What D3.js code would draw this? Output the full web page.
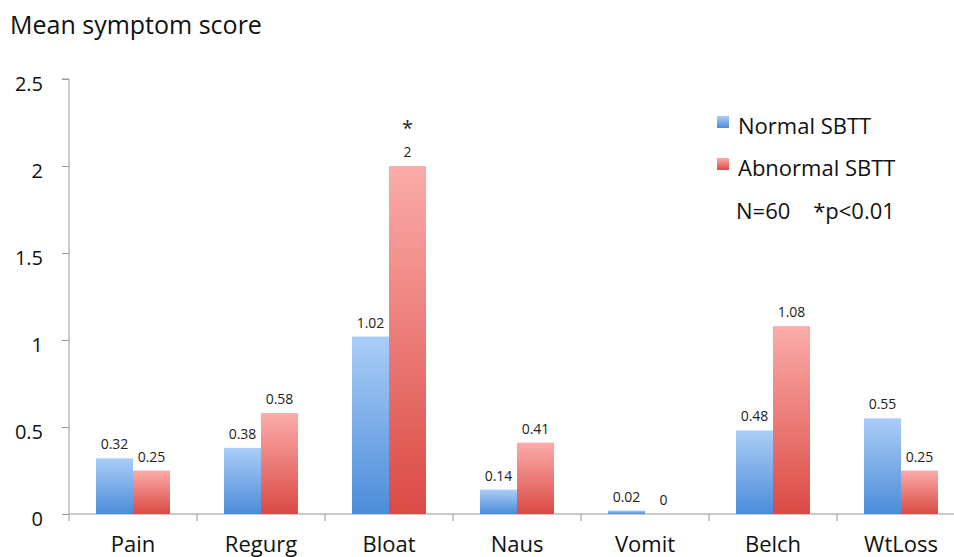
<!DOCTYPE html>
<html><head><meta charset="utf-8">
<script src="https://cdn.jsdelivr.net/npm/d3@7"></script>
<style>body{margin:0;background:#fff;overflow:hidden}svg{display:block}text{font-family:"Open Sans",sans-serif}</style>
</head><body><svg id="c" width="954" height="557"></svg>
<script>
const categories = ["Pain","Regurg","Bloat","Naus","Vomit","Belch","WtLoss"];
const normalSBTT = [0.32,0.38,1.02,0.14,0.02,0.48,0.55];
const abnormalSBTT = [0.25,0.58,2,0.41,0,1.08,0.25];
const valueLabels = [["0.32","0.25"],["0.38","0.58"],["1.02","2"],["0.14","0.41"],["0.02","0"],["0.48","1.08"],["0.55","0.25"]];
const yTicks = [0,0.5,1,1.5,2,2.5];
const seriesNames = ["Normal SBTT","Abnormal SBTT"];
const sigMarks = ["","","*","","","",""];

const svg = d3.select("#c");
const x0 = 69, plotW = 128*7;
const x = d3.scaleBand().domain(categories).range([x0, x0+plotW]).paddingInner(0).paddingOuter(0);
const xs = d3.scaleBand().domain([0,1]).range([27, 128-27]);
const y = d3.scaleLinear().domain([0,2.5]).range([514,79]);

const defs = svg.append("defs");
const grads = [["gBlue","#abcdf7","#4c8cd9"],["gRed","#fbacaa","#db4a44"]];
grads.forEach(([id,c1,c2])=>{
  const g = defs.append("linearGradient").attr("id",id).attr("x1",0).attr("y1",0).attr("x2",0).attr("y2",1);
  g.append("stop").attr("offset","0%").attr("stop-color",c1);
  g.append("stop").attr("offset","100%").attr("stop-color",c2);
});

// title
svg.append("text").attr("x",10).attr("y",34).attr("font-size",25).attr("fill","#111").text("Mean symptom score");

// y axis
const yAxis = d3.axisLeft(y).tickValues(yTicks).tickSize(7).tickPadding(19).tickFormat(d=>d===0?"0":String(d));
const ga = svg.append("g").attr("transform",`translate(${x0},0)`).call(yAxis);
ga.select(".domain").attr("stroke","#999").attr("d",`M-7,${y(2.5)}H0V${y(0)}`);
ga.selectAll(".tick line").attr("stroke","#999");
ga.selectAll(".tick text").attr("font-size",20).attr("fill","#111").attr("font-family","'Open Sans',sans-serif").attr("dy","0.55em");

// x axis
const xAxis = d3.axisBottom(x).tickSize(0).tickPadding(25);
const gx = svg.append("g").attr("transform",`translate(0,${y(0)})`).call(xAxis);
gx.select(".domain").attr("stroke","#999").attr("d",`M${x0},0H${x0+plotW}`);
gx.selectAll(".tick text").attr("font-size",22).attr("fill","#111").attr("font-family","'Open Sans',sans-serif").attr("dy","0.6em");
// category separators
const sep = svg.append("g");
d3.range(categories.length+1).forEach(i=>{
  const xx = x0 + i*x.bandwidth();
  sep.append("line").attr("x1",xx).attr("x2",xx).attr("y1",y(0)).attr("y2",y(0)+7).attr("stroke","#999");
});

// bars
const series = [normalSBTT, abnormalSBTT];
const fills = ["url(#gBlue)","url(#gRed)"];
series.forEach((vals,si)=>{
  svg.append("g").selectAll("rect").data(vals).join("rect")
    .attr("x",(d,i)=>x(categories[i])+xs(si))
    .attr("width",xs.bandwidth())
    .attr("y",d=>y(d))
    .attr("height",d=>y(0)-y(d))
    .attr("fill",fills[si]);
  svg.append("g").selectAll("text").data(vals).join("text")
    .attr("x",(d,i)=>x(categories[i])+xs(si)+xs.bandwidth()/2)
    .attr("y",d=>y(d)-9)
    .attr("text-anchor","middle").attr("font-size",14).attr("fill","#222")
    .text((d,i)=>valueLabels[i][si]);
});
// significance
svg.append("g").selectAll("text").data(sigMarks).join("text")
  .attr("x",(d,i)=>x(categories[i])+xs(1)+xs.bandwidth()/2)
  .attr("y",(d,i)=>y(abnormalSBTT[i])-31)
  .attr("text-anchor","middle").attr("font-size",20).attr("fill","#222").text(d=>d);

// legend
const leg = svg.append("g");
seriesNames.forEach((n,i)=>{
  leg.append("rect").attr("x",717).attr("y",116+i*42).attr("width",12).attr("height",12).attr("fill",fills[i]);
  leg.append("text").attr("x",738).attr("y",134+i*42).attr("font-size",22).attr("fill","#111").text(n);
});
leg.append("text").attr("x",736).attr("y",219).attr("font-size",22).attr("fill","#111").attr("xml:space","preserve").text("N=60    *p<0.01");
</script></body></html>
